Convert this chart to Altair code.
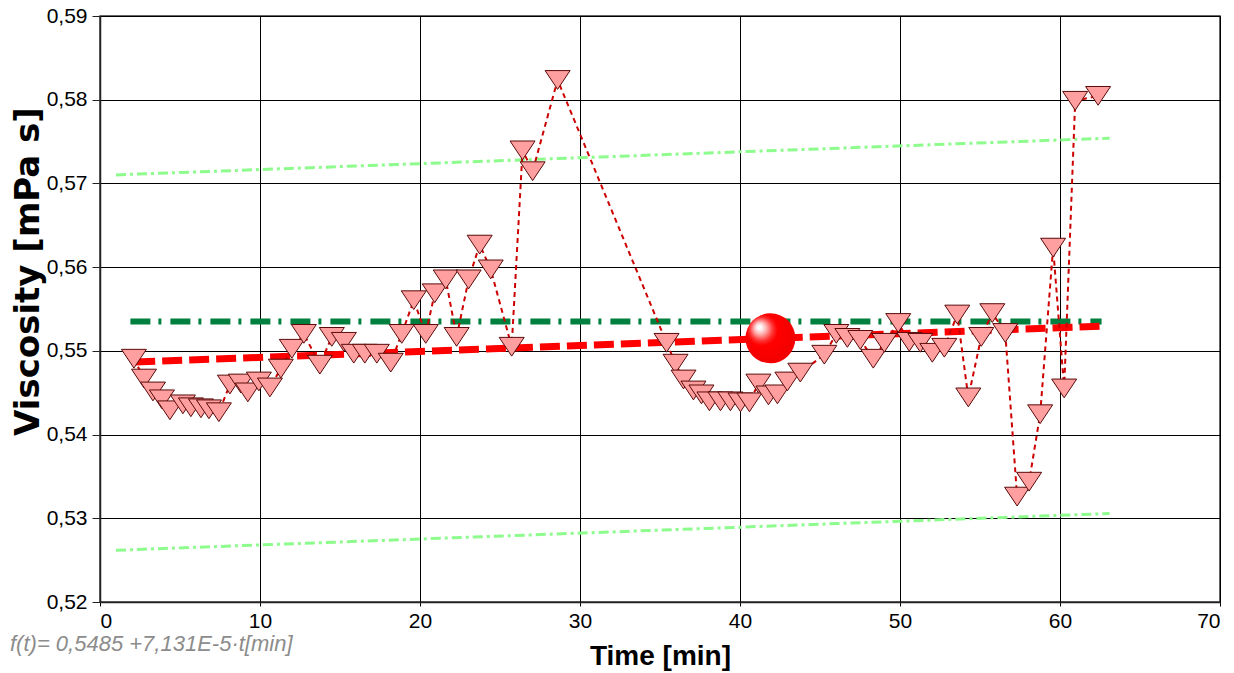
import altair as alt
import pandas as pd

# ---- data ----
time_min = [2.12, 2.75, 3.31, 3.87, 4.37, 5.18, 5.68, 6.31, 6.81, 7.43,
            8.12, 8.80, 9.24, 9.93, 10.62, 11.30, 11.99, 12.74, 13.74, 14.49,
            15.24, 15.86, 16.55, 17.30, 18.17, 18.86, 19.61, 20.36, 20.92, 21.61,
            22.29, 23.04, 23.73, 24.42, 25.73, 26.41, 27.04, 28.60, 35.41, 35.97,
            36.47, 37.09, 37.59, 38.09, 38.78, 39.40, 40.03, 40.59, 41.15, 41.78,
            42.34, 42.96, 43.77, 45.27, 46.02, 46.71, 47.52, 48.33, 49.02, 49.89,
            50.58, 51.27, 52.02, 52.77, 53.58, 54.27, 55.08, 55.77, 56.58, 57.32,
            58.07, 58.76, 59.57, 60.26, 60.95, 62.38]
viscosity = [0.54906, 0.54669, 0.54515, 0.54421, 0.54290, 0.54361, 0.54326, 0.54314, 0.54302, 0.54267,
             0.54598, 0.54610, 0.54504, 0.54634, 0.54563, 0.54788, 0.55025, 0.55203, 0.54835, 0.55167,
             0.55108, 0.54966, 0.54966, 0.54966, 0.54859, 0.55203, 0.55605, 0.55203, 0.55688, 0.55854,
             0.55167, 0.55854, 0.56269, 0.55973, 0.55049, 0.57395, 0.57146, 0.58236, 0.55096, 0.54847,
             0.54658, 0.54527, 0.54480, 0.54397, 0.54397, 0.54397, 0.54385, 0.54385, 0.54610, 0.54468,
             0.54480, 0.54634, 0.54740, 0.54954, 0.55203, 0.55155, 0.55131, 0.54906, 0.55096, 0.55333,
             0.55108, 0.55096, 0.54977, 0.55037, 0.55434, 0.54444, 0.55167, 0.55451, 0.55214, 0.53259,
             0.53437, 0.54243, 0.56233, 0.54551, 0.57987, 0.58046]

fit_t = [2.2, 62.6]
fit_v = [0.54866, 0.55296]
level_t = [1.9, 62.6]
level_v = [0.5535, 0.5535]
upper_t = [1.0, 63.1]
upper_v = [0.57102, 0.57541]
lower_t = [1.0, 63.1]
lower_v = [0.52618, 0.53057]
centroid_t = [41.9]
centroid_v = [0.5515]

x_ticks = [0, 10, 20, 30, 40, 50, 60, 70]
y_ticks = [0.52, 0.53, 0.54, 0.55, 0.56, 0.57, 0.58, 0.59]
x_title = "Time [min]"
y_title = "Viscosity [mPa s]"
formula_text = "f(t)= 0,5485 +7,131E-5·t[min]"

W, H = 1120, 586

meas = pd.DataFrame({"t": time_min, "v": viscosity})
fit = pd.DataFrame({"t": fit_t, "v": fit_v})
level = pd.DataFrame({"t": level_t, "v": level_v})
upper = pd.DataFrame({"t": upper_t, "v": upper_v})
lower = pd.DataFrame({"t": lower_t, "v": lower_v})
centroid = pd.DataFrame({"t": centroid_t, "v": centroid_v})

xs = alt.Scale(domain=[0, 70], nice=False, zero=False)
ys = alt.Scale(domain=[0.52, 0.59], nice=False, zero=False)

x_axis = alt.Axis(values=x_ticks, title=x_title, labelFont="Liberation Sans", labelFontSize=21,
                  labelColor="black", tickSize=4, tickColor="black", labelPadding=4,
                  titleFont="Liberation Sans", titleFontSize=28, titleFontWeight="bold",
                  titleColor="black", titleY=62, titleBaseline="alphabetic",
                  grid=True, gridColor="black", gridOpacity=1, gridWidth=1,
                  domainColor="#222", domainWidth=1.5)
y_axis = alt.Axis(values=y_ticks, title=y_title,
                  labelExpr="replace(format(datum.value, '.2f'), '.', ',')",
                  labelFont="Liberation Sans", labelFontSize=21, labelColor="black",
                  tickSize=8, tickColor="#222", labelPadding=5,
                  titleFont="DejaVu Sans", titleFontSize=34, titleFontWeight="bold",
                  titleColor="black", titleAngle=270, titleX=-62, titleY=255,
                  titleAlign="center", titleBaseline="alphabetic",
                  grid=True, gridColor="black", gridOpacity=1, gridWidth=1,
                  domainColor="#222", domainWidth=1.5)

X = alt.X("t:Q", scale=xs, axis=x_axis)
Y = alt.Y("v:Q", scale=ys, axis=y_axis)
Xn = alt.X("t:Q", scale=xs)
Yn = alt.Y("v:Q", scale=ys)

upper_line = alt.Chart(upper).mark_line(color="#8dfc8d", strokeWidth=3,
                                        strokeDash=[10, 4, 3, 4]).encode(x=X, y=Y)
lower_line = alt.Chart(lower).mark_line(color="#8dfc8d", strokeWidth=3,
                                        strokeDash=[10, 4, 3, 4]).encode(x=Xn, y=Yn)
level_line = alt.Chart(level).mark_line(color="#00803f", strokeWidth=6,
                                        strokeDash=[20, 8, 3, 9]).encode(x=Xn, y=Yn)
fit_line = alt.Chart(fit).mark_line(color="#ff0000", strokeWidth=7,
                                    strokeDash=[20, 7]).encode(x=Xn, y=Yn)
conn = alt.Chart(meas).mark_line(color="#cc0000", strokeWidth=2,
                                 strokeDash=[5, 4]).encode(x=Xn, y=Yn)
tri = alt.Chart(meas).mark_point(shape="M-1,-0.75L1,-0.75L0,0.75Z", size=625, filled=True,
                                 fill="#ff9f9f", stroke="#5a0a0a", strokeWidth=1,
                                 opacity=1, fillOpacity=1).encode(x=Xn, y=Yn)

grad = alt.Gradient(
    gradient="radial",
    stops=[alt.GradientStop(color="#ffffff", offset=0),
           alt.GradientStop(color="#ffffff", offset=0.06),
           alt.GradientStop(color="#ffb0b0", offset=0.2),
           alt.GradientStop(color="#ff3030", offset=0.38),
           alt.GradientStop(color="#ff0000", offset=0.5),
           alt.GradientStop(color="#f20000", offset=1)],
    x1=0.27, y1=0.27, r1=0, x2=0.4, y2=0.4, r2=0.62)
sphere = alt.Chart(centroid).mark_point(shape="circle", size=2500, filled=True, fill=grad,
                                        opacity=1, fillOpacity=1, strokeWidth=0).encode(x=Xn, y=Yn)

formula = alt.Chart(pd.DataFrame({"label": [formula_text]})).mark_text(
    align="left", baseline="alphabetic", font="Liberation Sans", fontSize=22,
    fontStyle="italic", color="#8c8c8c"
).encode(x=alt.value(-90), y=alt.value(H + 49), text="label:N")

chart = alt.layer(upper_line, lower_line, level_line, fit_line, conn, tri, sphere, formula).properties(
    width=W, height=H,
    autosize=alt.AutoSizeParams(type="none"),
    padding={"left": 92, "top": 8, "right": 6, "bottom": 70},
    background="white",
).configure_view(stroke="#333", strokeWidth=1.5)

chart.save("out.html", embed_options={"renderer": "svg", "actions": False})
